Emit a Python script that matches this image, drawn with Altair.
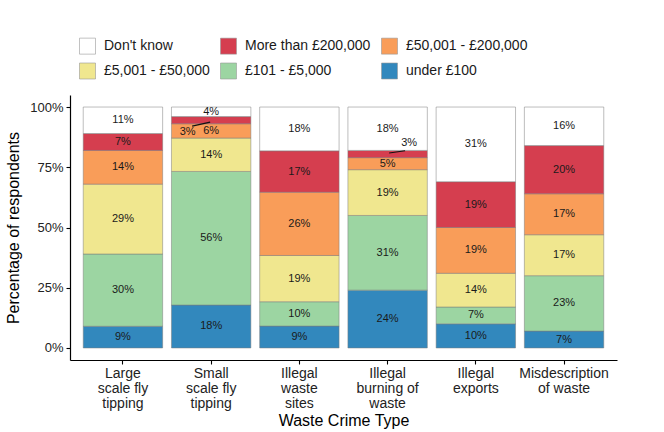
import altair as alt
import pandas as pd

# Waste crime types (x axis), line breaks mark the wrapped label lines
categories = [
    "Large\nscale fly\ntipping",
    "Small\nscale fly\ntipping",
    "Illegal\nwaste\nsites",
    "Illegal\nburning of\nwaste",
    "Illegal\nexports",
    "Misdescription\nof waste",
]

# Cost bands, bottom of the stack to the top
bands = [
    "under £100",
    "£101 - £5,000",
    "£5,001 - £50,000",
    "£50,001 - £200,000",
    "More than £200,000",
    "Don't know",
]

# Percentage of respondents per band, one value per crime type
under_100 = [9, 18, 9, 24, 10, 7]
from_101 = [30, 56, 10, 31, 7, 23]
from_5001 = [29, 14, 19, 19, 14, 17]
from_50001 = [14, 6, 26, 5, 19, 17]
over_200k = [7, 3, 17, 3, 19, 20]
dont_know = [11, 4, 18, 18, 31, 16]

band_colors = {
    "Don't know": "#FFFFFF",
    "More than £200,000": "#D53E4F",
    "£50,001 - £200,000": "#F99D59",
    "£5,001 - £50,000": "#F0E78F",
    "£101 - £5,000": "#9CD5A2",
    "under £100": "#3288BD",
}
legend_order = list(reversed(bands))

series = [under_100, from_101, from_5001, from_50001, over_200k, dont_know]
rows = []
for rank, (band, values) in enumerate(zip(bands, series)):
    for cat, v in zip(categories, values):
        rows.append({"cat": cat, "band": band, "pct": v, "rank": rank, "label": f"{v}%"})
df = pd.DataFrame(rows)

FONT = "Liberation Sans"

base = (
    alt.Chart(df)
    .transform_stack(
        stack="pct",
        groupby=["cat"],
        sort=[alt.SortField("rank", order="ascending")],
        offset="normalize",
        as_=["y0", "y1"],
    )
    .transform_calculate(mid="(datum.y0 + datum.y1) / 2")
)

x_enc = alt.X(
    "cat:N",
    sort=categories,
    scale=alt.Scale(paddingInner=0.1, paddingOuter=0.15),
    axis=alt.Axis(
        title="Waste Crime Type",
        labelExpr="split(datum.label, '\\n')",
        labelAngle=0,
        labelFontSize=14,
        labelLineHeight=15,
        labelPadding=2.5,
        titleFontSize=16,
        titlePadding=2,
    ),
)

y_scale = alt.Scale(domain=[-0.05, 1.05], nice=False, zero=False)

bars = base.mark_bar(stroke="#7a7a7a", strokeWidth=0.5).encode(
    x=x_enc,
    y=alt.Y(
        "y0:Q",
        scale=y_scale,
        axis=alt.Axis(
            title="Percentage of respondents",
            values=[0, 0.25, 0.5, 0.75, 1],
            format="%",
            labelFontSize=13,
            labelPadding=3,
            titleFontSize=16,
            titlePadding=8,
        ),
    ),
    y2="y1:Q",
    color=alt.Color(
        "band:N",
        scale=alt.Scale(domain=legend_order, range=[band_colors[b] for b in legend_order]),
        legend=alt.Legend(
            title=None,
            orient="none",
            legendX=9,
            legendY=-57.5,
            direction="horizontal",
            columns=3,
            symbolType="square",
            symbolSize=256,
            symbolStrokeColor="#999999",
            symbolStrokeWidth=0.6,
            labelFontSize=14,
            labelFont=FONT,
            labelColor="#1a1a1a",
            labelOffset=8,
            rowPadding=6,
            columnPadding=9,
        ),
    ),
)

text_enc = dict(x=alt.X("cat:N", sort=categories), y=alt.Y("mid:Q", scale=y_scale), text="label:N")

labels = base.transform_filter("datum.pct >= 4").mark_text(
    fontSize=11, font=FONT, color="#1a1a1a"
).encode(**text_enc)

# Thin segments get their labels pushed aside with a short leader line
small_cat = categories[1]
burn_cat = categories[3]

small_label = base.transform_filter(
    f"datum.pct < 4 && datum.cat == {small_cat!r}".replace("\n", "\\n")
).mark_text(fontSize=11, font=FONT, color="#1a1a1a", dx=-23.5, dy=12).encode(**text_enc)

burn_label = base.transform_filter(
    f"datum.pct < 4 && datum.cat == {burn_cat!r}".replace("\n", "\\n")
).mark_text(fontSize=11, font=FONT, color="#1a1a1a", dx=21.5, dy=-11).encode(**text_enc)

rule_enc = dict(
    x=alt.X("cat:N", sort=categories),
    x2="cat:N",
    y=alt.Y("mid:Q", scale=y_scale),
    y2="mid:Q",
)

small_line = base.transform_filter(
    f"datum.pct < 4 && datum.cat == {small_cat!r}".replace("\n", "\\n")
).mark_rule(color="#111111", strokeWidth=1.2, xOffset=-19, x2Offset=-1, yOffset=6, y2Offset=2).encode(**rule_enc)

burn_line = base.transform_filter(
    f"datum.pct < 4 && datum.cat == {burn_cat!r}".replace("\n", "\\n")
).mark_rule(color="#111111", strokeWidth=1.2, xOffset=1.5, x2Offset=17.5, yOffset=-1, y2Offset=-3.3).encode(**rule_enc)

chart = (
    alt.layer(bars, labels, small_label, burn_label, small_line, burn_line)
    .properties(
        width=547,
        height=265,
        autosize=alt.AutoSizeParams(type="none"),
        padding={"left": 70, "top": 95, "right": 47, "bottom": 72},
    )
    .configure_view(stroke=None)
    .configure_axis(
        grid=False,
        domainColor="#000000",
        domainWidth=1.2,
        tickColor="#000000",
        tickSize=4,
        tickWidth=1.1,
        labelColor="#222222",
        titleColor="#000000",
        labelFont=FONT,
        titleFont=FONT,
        titleFontWeight="normal",
    )
)

chart.save("out.html", embed_options={"renderer": "svg", "actions": False})
